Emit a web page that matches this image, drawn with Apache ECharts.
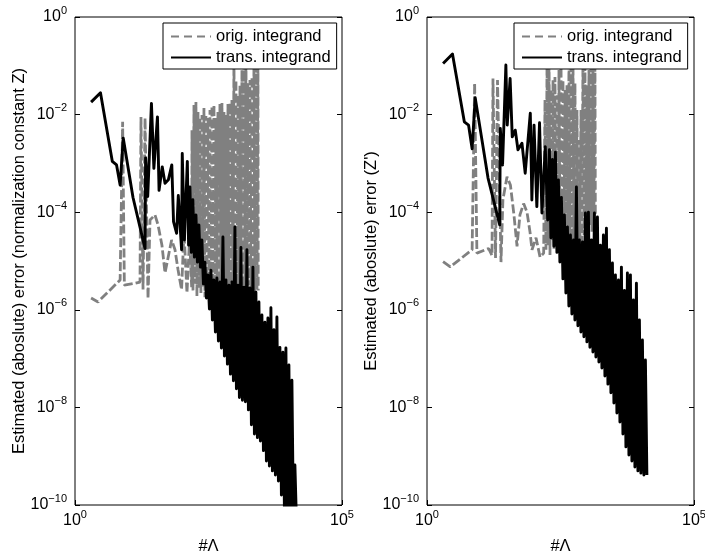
<!DOCTYPE html>
<html><head><meta charset="utf-8">
<script src="https://cdn.jsdelivr.net/npm/echarts@6/dist/echarts.min.js"></script>
<style>html,body{margin:0;padding:0;background:#fff}#c{width:705px;height:555px}</style>
</head><body><div id="c"></div>
<script>
// ---------- tick labels / texts ----------
const yTickExps = [-10, -8, -6, -4, -2, 0];
const xTickExps = [0, 5];
const seriesNames = ['orig. integrand', 'trans. integrand'];
const yTitleLeft = 'Estimated (aboslute) error (normalization constant Z)';
const yTitleRight = "Estimated (aboslute) error (Z')";
const xTitle = '#\u039B';

// ---------- left panel: original integrand (grey dashed) ----------
const leftOrigX = [2, 2.7, 7, 7.8, 8.4, 13.3, 16.5, 17.2, 18.8, 20.5, 23.3, 25.4, 31.4, 35.9, 42.5, 48.5, 64.5, 74.6, 85, 99, 110, 125, 140, 153,
  155, 162, 169, 176, 184, 192, 201, 210, 219, 228, 239, 249, 260, 271, 283, 296, 309, 323, 337, 352, 367, 383, 400, 418, 436,
  455, 475, 496, 518, 541, 565, 590, 616, 643, 671, 701, 732, 764, 798, 833, 869, 908, 948, 989, 1033, 1079, 1126, 1176, 1228, 1282,
  1338, 1397, 1459, 1523, 1590, 1660, 1733, 1810, 1889, 1973, 2060, 2150, 2245, 2344, 2447, 2555, 2668, 2700];
const leftOrigY = [1.75e-6, 1.45e-6, 4.1e-6, 7.1e-3, 3.2e-6, 3.5e-6, 3.7e-6, 8.9e-3, 2.6e-6, 8.5e-3, 1.7e-6, 6.9e-5, 8.8e-5, 5.5e-5, 2.1e-5, 5.7e-6, 2.7e-5, 1.7e-5, 6.6e-6, 2.6e-6, 4e-5, 2.2e-6, 3.0e-5, 2.9e-6,
  4.8e-3, 2.5e-6, 1.57e-2, 3.4e-6, 1.81e-2, 1.9e-6, 1.13e-2, 2.8e-6, 8.5e-3, 2.2e-6, 9.8e-3, 3.0e-6, 1.36e-2, 1.8e-6, 9.4e-3, 2.6e-6,
  8.5e-3, 2.0e-6, 1.24e-2, 3.2e-6, 1.5e-2, 2.4e-6, 1.57e-2, 1.7e-6, 8.5e-3, 2.9e-6, 1.13e-2, 2.1e-6, 1.65e-2, 2.7e-6, 1.73e-2, 1.9e-6,
  1.13e-2, 3.1e-6, 9.8e-3, 2.3e-6, 1.65e-2, 2.8e-6, 1.73e-2, 2.0e-6, 2.0e-2, 3.3e-6, 0.166, 2.5e-6, 5.1e-2, 1.8e-6, 2.5e-2, 2.6e-6,
  3.9e-2, 3.0e-6, 8.2e-2, 2.2e-6, 0.145, 2.7e-6, 0.166, 1.9e-6, 4.4e-2, 3.2e-6, 5.1e-2, 2.4e-6, 5.9e-2, 2.9e-6, 0.12, 2.1e-6,
  0.166, 2.6e-6, 0.166, 2.5e-6];

// ---------- left panel: transformed integrand (black solid) ----------
const leftTransX = [2, 3, 5, 6, 7, 8, 12.2, 20.5, 21, 23, 27, 30, 35, 37.5, 43, 48.5, 56, 65, 70, 80, 86, 99, 102, 112, 127, 134,
  142, 151, 161, 172, 184, 196, 209, 223, 238, 254, 271, 289, 308, 329, 351, 374, 399, 426, 454, 485, 517, 552, 589, 628, 670, 715,
  763, 814, 868, 926, 988, 1054, 1125, 1200, 1280, 1365, 1456, 1554, 1657, 1768, 1886, 2012, 2147, 2290, 2443, 2606, 2781, 2966,
  3164, 3376, 3601, 3842, 4099, 4372, 4664, 4976, 5308, 5663, 6041, 6445, 6875, 7335, 7825, 8347, 8905, 9500, 10130, 10810, 11530, 12300, 13120, 14000];
const leftTransY = [1.8e-2, 2.8e-2, 1.1e-3, 9.3e-4, 3.6e-4, 3.3e-3, 2.0e-4, 1.8e-5, 1.3e-3, 2.1e-4, 1.7e-2, 7.9e-4, 9e-3, 2.8e-4, 8.5e-4, 3.9e-4, 4.6e-4, 9.3e-4, 6.4e-5, 3.7e-5, 2.2e-4, 1.7e-5, 1.6e-3, 2.7e-5, 1.1e-3, 2.1e-5,
  3.3e-4, 1.5e-5, 1.8e-4, 1.2e-5, 8.8e-5, 9.5e-6, 5.5e-5, 7.5e-6, 2.7e-5, 3.4e-6, 9.5e-6, 1.75e-6, 5.2e-6, 1.04e-6, 6.5e-6, 6.2e-7, 4.1e-6, 3.5e-7, 4.5e-6, 2.3e-7, 3.7e-6, 1.65e-7, 3.1e-5, 1.13e-7, 4.1e-6, 7.7e-8,
  3.2e-6, 4.8e-8, 3.7e-6, 3.5e-8, 5.0e-5, 2.4e-8, 3.2e-6, 1.6e-8, 1.9e-5, 1.4e-8, 2.9e-6, 1.3e-8, 1.7e-5, 8.9e-9, 2.8e-6, 4.4e-9, 7.5e-6, 2.85e-9, 2.3e-6, 2.4e-9, 1.45e-6, 2.05e-9,
  7.8e-7, 1.3e-9, 5.6e-7, 8e-10, 6.8e-7, 6.3e-10, 1.1e-6, 5e-10, 3.9e-7, 4.1e-10, 7.1e-7, 3.1e-10, 1.7e-7, 1.6e-10, 1.36e-7, 8e-11, 1.65e-7, 5e-11, 7.4e-8, 5e-11, 3.6e-8, 5e-11, 6.6e-10, 5e-11];

// ---------- right panel: original integrand (grey dashed) ----------
const rightOrigX = [2, 2.73, 7, 7.8, 8.6, 14.3, 16.5, 17.2, 19.2, 20.9, 24.3, 26.4, 31.5, 36.5, 42.5, 48.5, 55, 64.5, 74.6, 85, 92.5, 110, 131, 153,
  162, 169, 177, 184, 193, 201, 210, 219, 229, 239, 249, 260, 272, 284, 296, 309, 323, 337, 352, 367, 384, 401, 418, 437, 456,
  476, 497, 519, 542, 565, 590, 616, 644, 672, 701, 732, 765, 798, 833, 870, 908, 949, 990, 1034, 1079, 1127, 1177, 1228, 1282, 1339, 1398, 1420];
const rightOrigY = [9.7e-6, 7.6e-6, 1.7e-5, 4.4e-2, 1.45e-5, 1.8e-5, 1.3e-5, 5.5e-2, 1.15e-5, 5.1e-2, 9.5e-6, 1.8e-4, 5.3e-4, 3.6e-4, 8.8e-5, 2.0e-5, 8.8e-5, 1.5e-4, 1.0e-4, 3.9e-5, 1.7e-5, 3.0e-5, 1.2e-5, 1.45e-5,
  2.0e-2, 1.7e-5, 0.13, 2.1e-5, 0.166, 1.33e-5, 3.2e-2, 2.7e-5, 5.1e-2, 1.7e-5, 5.9e-2, 2.4e-5, 2.5e-2, 1.5e-5, 8.2e-2, 3.0e-5,
  0.166, 1.9e-5, 5.1e-2, 2.7e-5, 3.2e-2, 1.7e-5, 4.0e-2, 3.4e-5, 0.145, 2.1e-5, 0.166, 2.7e-5, 0.12, 1.8e-5, 4.4e-2, 3.0e-5,
  1.24e-2, 2.2e-5, 3.0e-3, 2.7e-5, 1.24e-2, 2.0e-5, 0.145, 3.4e-5, 0.1, 4.3e-5, 4.0e-2, 2.7e-5, 8.2e-2, 5.5e-5, 0.166, 4.0e-5,
  0.166, 8.8e-5, 0.13, 9e-5];

// ---------- right panel: transformed integrand (black solid) ----------
const rightTransX = [2, 3, 5, 6, 7, 8, 13.9, 23, 23.6, 26, 30, 31.8, 36, 39.5, 45, 50.5, 60, 69, 86, 92, 101, 114, 128, 142, 164, 182,
  196, 209, 223, 238, 254, 271, 289, 308, 329, 351, 374, 399, 426, 454, 485, 517, 552, 589, 628, 670, 715, 763, 814, 868, 926, 988,
  1054, 1125, 1200, 1280, 1365, 1456, 1554, 1657, 1768, 1886, 2012, 2147, 2290, 2443, 2606, 2781, 2966, 3164, 3376, 3601, 3842,
  4099, 4372, 4664, 4976, 5308, 5663, 6041, 6445, 6875, 7335, 7825, 8347, 8905, 9500, 10130, 10810, 11530, 12300, 13120];
const rightTransY = [0.112, 0.175, 7.1e-3, 6.1e-3, 2.0e-3, 2.2e-2, 5.0e-4, 5.5e-5, 5.2e-3, 9.3e-4, 0.104, 6.1e-3, 5.5e-2, 3.5e-3, 4.8e-3, 1.9e-3, 2.6e-3, 6.3e-4, 1.07e-2, 1.78e-4, 6.1e-3, 1.3e-4, 6.8e-3, 9.6e-5, 2.2e-3, 6.9e-5,
  1.9e-3, 3.0e-5, 1.2e-3, 2.0e-5, 1.7e-3, 1.5e-5, 4.6e-4, 9.5e-6, 2.0e-4, 4.3e-6, 8.8e-5, 2.2e-6, 5.0e-5, 1.2e-6, 3.4e-5, 8.2e-7, 2.7e-5, 6.2e-7, 3.3e-4, 4.7e-7, 2.7e-5, 3.5e-7, 2.45e-5, 2.8e-7, 9.6e-5, 2.2e-7,
  1.0e-4, 1.7e-7, 2.7e-5, 1.36e-7, 9.6e-5, 1.08e-7, 8.0e-5, 8.5e-8, 2.1e-5, 6.4e-8, 3.4e-5, 4.4e-8, 4.7e-5, 3.0e-8, 1.7e-5, 2.0e-8, 9.1e-6, 1.23e-8, 5.2e-6, 7.7e-9, 4.1e-6,
  5.0e-9, 7.5e-6, 2.85e-9, 2.5e-6, 1.55e-9, 5.7e-6, 1.06e-9, 5.2e-6, 8.0e-10, 1.6e-6, 6.0e-10, 3.5e-6, 5.0e-10, 6.2e-7, 4.5e-10, 2.4e-7, 4.1e-10, 9.4e-8, 4.1e-10];

// ---------- build ----------
const FONT = "'Liberation Sans', Arial, Helvetica, sans-serif";
const GREY = '#808080';
const zip = (xs, ys) => xs.map((x, i) => [x, ys[i]]);
const rich = {
  b: { fontSize: 16, lineHeight: 24, fontFamily: FONT, color: '#000' },
  e: { fontSize: 11, lineHeight: 9, verticalAlign: 'top', fontFamily: FONT, color: '#000' }
};
const expLabel = v => { const n = Math.round(v); return '{b|10}{e|' + (n < 0 ? '\u2212' + (-n) : String(n)) + '}'; };
const titleStyle = { fontSize: 16.5, fontFamily: FONT, color: '#000' };

const grids = [
  { left: 75, top: 17, width: 267, height: 488, show: true, borderColor: '#000', borderWidth: 1, backgroundColor: 'transparent', containLabel: false, outerBoundsMode: 'none' },
  { left: 427, top: 17, width: 267, height: 488, show: true, borderColor: '#000', borderWidth: 1, backgroundColor: 'transparent', containLabel: false, outerBoundsMode: 'none' }
];

const logX = g => ({ type: 'log', logBase: 10, gridIndex: g, min: 1, max: 1e5, show: false, axisLine: { onZero: false } });
const logY = g => ({ type: 'log', logBase: 10, gridIndex: g, min: 1e-10, max: 1, show: false, axisLine: { onZero: false } });
const valX = g => ({
  type: 'value', gridIndex: g, position: 'bottom', min: 0, max: 5,
  axisLine: { show: false, onZero: false },
  axisTick: { show: true, inside: true, length: 5, customValues: xTickExps, lineStyle: { color: '#000' } },
  axisLabel: { show: true, customValues: xTickExps, formatter: expLabel, rich: rich, margin: 4 },
  splitLine: { show: false },
  name: xTitle, nameLocation: 'middle', nameGap: 33, nameTextStyle: titleStyle, nameMoveOverlap: false
});
const valY = (g, pos, title) => ({
  type: 'value', gridIndex: g, position: pos, min: -10, max: 0,
  axisLine: { show: false, onZero: false },
  axisTick: { show: true, inside: true, length: 5, customValues: yTickExps, lineStyle: { color: '#000' } },
  axisLabel: { show: pos === 'left', customValues: yTickExps, formatter: expLabel, rich: rich, margin: 8 },
  splitLine: { show: false },
  name: title || '', nameLocation: 'middle', nameGap: 47, nameRotate: 90, nameTextStyle: titleStyle, nameMoveOverlap: false
});

const legendCfg = left => ({
  data: [{ name: seriesNames[0], lineStyle: { type: [8, 5] } }, { name: seriesNames[1] }],
  orient: 'vertical', left: left, top: 23,
  itemWidth: 40, itemHeight: 14, itemGap: 4, padding: [5, 6, 3, 7],
  backgroundColor: '#fff', borderColor: '#000', borderWidth: 1, borderRadius: 0,
  selectedMode: false, itemStyle: { opacity: 0 },
  textStyle: { fontSize: 16.5, fontFamily: FONT, color: '#000' }
});

const mk = (name, xi, yi, xs, ys) => ({
  type: 'line', name: name, xAxisIndex: xi, yAxisIndex: yi, data: zip(xs, ys),
  showSymbol: false, symbol: 'none', animation: false, clip: true,
  color: name === seriesNames[0] ? GREY : '#000',
  lineStyle: name === seriesNames[0]
    ? { color: GREY, width: 2.8, type: [9, 3] }
    : { color: '#000', width: 2.9, type: 'solid', join: 'round' }
});

const option = {
  backgroundColor: '#fff',
  animation: false,
  textStyle: { fontFamily: FONT },
  grid: grids,
  legend: [legendCfg(163), legendCfg(514)],
  xAxis: [logX(0), valX(0), logX(1), valX(1)],
  yAxis: [logY(0), valY(0, 'left', yTitleLeft), valY(0, 'right'), logY(1), valY(1, 'left', yTitleRight), valY(1, 'right')],
  series: [
    mk(seriesNames[0], 0, 0, leftOrigX, leftOrigY),
    mk(seriesNames[1], 0, 0, leftTransX, leftTransY),
    mk(seriesNames[0], 2, 3, rightOrigX, rightOrigY),
    mk(seriesNames[1], 2, 3, rightTransX, rightTransY)
  ]
};
const chart = echarts.init(document.getElementById('c'), null, { renderer: 'canvas' });
chart.setOption(option);
</script></body></html>
